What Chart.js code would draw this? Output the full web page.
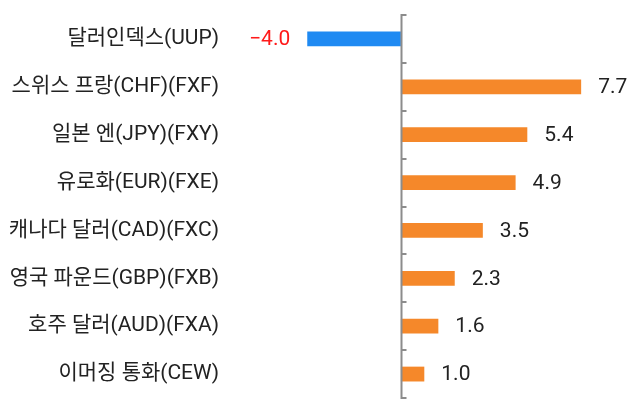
<!DOCTYPE html>
<html>
<head>
<meta charset="utf-8">
<script src="https://cdn.jsdelivr.net/npm/chart.js@4/dist/chart.umd.min.js"></script>
<style>
  html, body { margin: 0; padding: 0; background: #fff; }
  #wrap { width: 644px; height: 407px; }
</style>
</head>
<body>
<div id="wrap"><canvas id="chart"></canvas></div>
<script>
const labels = ['달러인덱스(UUP)', '스위스 프랑(CHF)(FXF)', '일본 엔(JPY)(FXY)', '유로화(EUR)(FXE)',
	'캐나다 달러(CAD)(FXC)', '영국 파운드(GBP)(FXB)', '호주 달러(AUD)(FXA)', '이머징 통화(CEW)'];
const values = [-4.0, 7.7, 5.4, 4.9, 3.5, 2.3, 1.6, 1.0];

const FONT = 'Roboto, "Noto Sans CJK KR", sans-serif';
const BLUE = '#1f8af2';
const ORANGE = '#f5882a';

// zero line with little ticks between categories
var zeroAxisPlugin = {
	id: 'zeroAxis',
	afterDatasetsDraw: function (chart) {
		var ctx = chart.ctx;
		var x = chart.scales.x;
		var y = chart.scales.y;
		var x0 = Math.round(x.getPixelForValue(0)) + 0.5;
		var step = y.getPixelForValue(1) - y.getPixelForValue(0);
		ctx.save();
		ctx.strokeStyle = '#8c8c8c';
		ctx.lineWidth = 2;
		ctx.beginPath();
		ctx.moveTo(x0, chart.chartArea.top);
		ctx.lineTo(x0, chart.chartArea.bottom);
		for (var i = 0; i <= labels.length; i++) {
			var ty = Math.round(y.getPixelForValue(0) - step / 2 + i * step);
			ctx.moveTo(x0 - 1, ty);
			ctx.lineTo(x0 + 5, ty);
		}
		ctx.stroke();
		ctx.restore();
	}
};

var valueLabelPlugin = {
	id: 'valueLabels',
	afterDatasetsDraw: function (chart) {
		var ctx = chart.ctx;
		var meta = chart.getDatasetMeta(0);
		ctx.save();
		ctx.font = '21px ' + FONT;
		ctx.textBaseline = 'middle';
		meta.data.forEach(function (bar, i) {
			var v = values[i];
			var txt = v < 0 ? '\u2212' + Math.abs(v).toFixed(1) : v.toFixed(1);
			if (v < 0) {
				ctx.fillStyle = '#ff1a1a';
				ctx.textAlign = 'right';
				ctx.fillText(txt, bar.x - 17, bar.y + 1);
			} else {
				ctx.fillStyle = '#222';
				ctx.textAlign = 'left';
				ctx.fillText(txt, bar.x + 17, bar.y + 1);
			}
		});
		ctx.restore();
	}
};

new Chart(document.getElementById('chart').getContext('2d'), {
	type: 'bar',
	data: {
		labels: labels,
		datasets: [{
			data: values,
			backgroundColor: values.map(function (v) { return v < 0 ? BLUE : ORANGE; }),
			barPercentage: 0.62,
			categoryPercentage: 0.5
		}]
	},
	options: {
		indexAxis: 'y',
		responsive: true,
		maintainAspectRatio: false,
		animation: false,
		layout: { padding: { top: 15, bottom: 9, left: 0, right: 9 } },
		plugins: {
			legend: { display: false },
			tooltip: { enabled: false }
		},
		scales: {
			x: {
				display: false,
				min: -7.3,
				max: 10
			},
			y: {
				afterFit: function (scale) {
					scale.width = 230;
					scale.paddingTop = 0;
					scale.paddingBottom = 0;
				},
				grid: { display: false, drawTicks: false },
				border: { display: false },
				ticks: {
					color: '#222',
					padding: 11,
					font: { family: FONT, size: 21 }
				}
			}
		}
	},
	plugins: [zeroAxisPlugin, valueLabelPlugin]
});
</script>
</body>
</html>
